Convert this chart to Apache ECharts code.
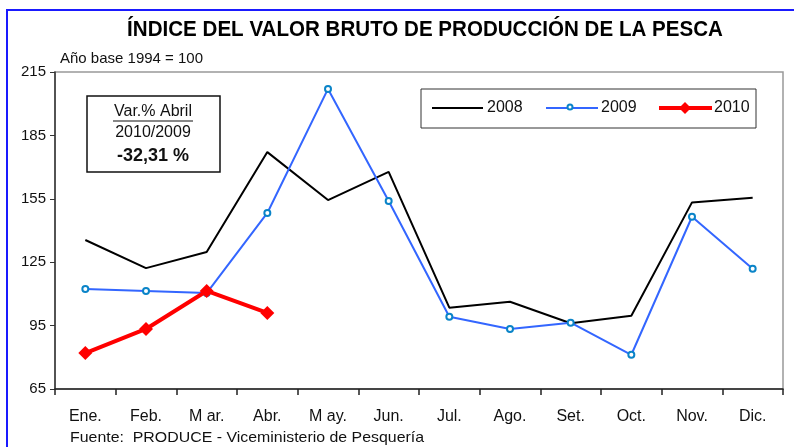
<!DOCTYPE html>
<html>
<head>
<meta charset="utf-8">
<script src="https://cdn.jsdelivr.net/npm/echarts@6/dist/echarts.min.js"></script>
<style>
  html, body { margin: 0; padding: 0; background: #fff; }
  #chart { width: 794px; height: 447px; }
</style>
</head>
<body>
<div id="chart"></div>
<script>
const months = ['Ene.', 'Feb.', 'M ar.', 'Abr.', 'M ay.', 'Jun.', 'Jul.', 'Ago.', 'Set.', 'Oct.', 'Nov.', 'Dic.'];
const values2008 = [135.5, 122.2, 129.8, 177.1, 154.4, 167.7, 103.5, 106.3, 96.1, 99.7, 153.3, 155.5];
const values2009 = [112.3, 111.4, 110.4, 148.3, 207.0, 154.0, 99.2, 93.4, 96.4, 81.2, 146.5, 121.9];
const values2010 = [82.0, 93.4, 111.4, 101.0];
const yTicks = { min: 65, max: 215, step: 30 };

const sans = '"Liberation Sans", Arial, sans-serif';

const myChart = echarts.init(document.getElementById('chart'));

myChart.setOption({
  animation: false,
  backgroundColor: '#ffffff',
  grid: { left: 55, right: 11, top: 72, bottom: 58, show: true, borderColor: '#999999', borderWidth: 1.5 },
  legend: { show: false },
  xAxis: {
    type: 'category',
    data: months,
    boundaryGap: true,
    axisLine: { lineStyle: { color: '#222', width: 1.5 } },
    axisTick: { show: true, length: 6, lineStyle: { color: '#222', width: 1.5 } },
    axisLabel: { color: '#111', fontFamily: sans, fontSize: 16, margin: 20 }
  },
  yAxis: {
    type: 'value',
    min: yTicks.min, max: yTicks.max, interval: yTicks.step,
    axisLine: { show: true, lineStyle: { color: '#333', width: 1.5 } },
    axisTick: { show: true, length: 5, lineStyle: { color: '#333' } },
    splitLine: { show: false },
    axisLabel: { color: '#111', fontFamily: sans, fontSize: 15, margin: 9 }
  },
  series: [
    {
      name: '2008', type: 'line', data: values2008,
      showSymbol: false, symbol: 'none',
      lineStyle: { color: '#000', width: 2 }, z: 2
    },
    {
      name: '2009', type: 'line', data: values2009,
      symbol: 'circle', symbolSize: 6,
      itemStyle: { color: '#ffffff', borderColor: '#0a84c8', borderWidth: 2 },
      lineStyle: { color: '#3366ff', width: 2 }, z: 3
    },
    {
      name: '2010', type: 'line', data: values2010,
      symbol: 'diamond', symbolSize: 14,
      itemStyle: { color: '#ff0000' },
      lineStyle: { color: '#ff0000', width: 4 }, z: 4
    }
  ],
  graphic: [
    { type: 'rect', shape: { x: 7, y: 10, width: 800, height: 460 }, style: { fill: 'none', stroke: '#1a1aff', lineWidth: 2 }, silent: true },
    { type: 'text', x: 425, y: 30, scaleX: 0.935,
      style: { text: 'ÍNDICE DEL VALOR BRUTO DE PRODUCCIÓN DE LA PESCA', font: 'bold 22px ' + sans, fill: '#000', align: 'center', verticalAlign: 'middle' } },
    { type: 'text', x: 60, y: 59, style: { text: 'Año base 1994 = 100', font: '15px ' + sans, fill: '#111', verticalAlign: 'middle' } },
    { type: 'text', x: 70, y: 438, scaleX: 1.06, style: { text: 'Fuente:  PRODUCE - Viceministerio de Pesquería', font: '15px ' + sans, fill: '#111', verticalAlign: 'middle' } },
    // recuadro variación
    { type: 'rect', shape: { x: 87, y: 96, width: 133, height: 76 }, style: { fill: '#fff', stroke: '#111', lineWidth: 1.5 } },
    { type: 'text', x: 153, y: 112, style: { text: 'Var.% Abril', font: '16px ' + sans, fill: '#111', align: 'center', verticalAlign: 'middle' } },
    { type: 'line', shape: { x1: 113, y1: 121, x2: 193, y2: 121 }, style: { stroke: '#111', lineWidth: 1.2 } },
    { type: 'text', x: 153, y: 133, style: { text: '2010/2009', font: '16px ' + sans, fill: '#111', align: 'center', verticalAlign: 'middle' } },
    { type: 'text', x: 153, y: 156, style: { text: '-32,31 %', font: 'bold 18px ' + sans, fill: '#111', align: 'center', verticalAlign: 'middle' } },
    // leyenda
    { type: 'rect', shape: { x: 421, y: 89, width: 335, height: 39 }, style: { fill: '#fff', stroke: '#333', lineWidth: 1 } },
    { type: 'line', shape: { x1: 432, y1: 108, x2: 483, y2: 108 }, style: { stroke: '#000', lineWidth: 2 } },
    { type: 'text', x: 487, y: 108, style: { text: '2008', font: '16px ' + sans, fill: '#111', verticalAlign: 'middle' } },
    { type: 'line', shape: { x1: 546, y1: 108, x2: 598, y2: 108 }, style: { stroke: '#3366ff', lineWidth: 2 } },
    { type: 'circle', shape: { cx: 570, cy: 107, r: 2.5 }, style: { fill: '#fff', stroke: '#0a84c8', lineWidth: 2 } },
    { type: 'text', x: 601, y: 108, style: { text: '2009', font: '16px ' + sans, fill: '#111', verticalAlign: 'middle' } },
    { type: 'line', shape: { x1: 659, y1: 108, x2: 712, y2: 108 }, style: { stroke: '#ff0000', lineWidth: 4 } },
    { type: 'polygon', shape: { points: [[685, 102], [691, 108], [685, 114], [679, 108]] }, style: { fill: '#ff0000' } },
    { type: 'text', x: 714, y: 108, style: { text: '2010', font: '16px ' + sans, fill: '#111', verticalAlign: 'middle' } }
  ]
});
</script>
</body>
</html>
